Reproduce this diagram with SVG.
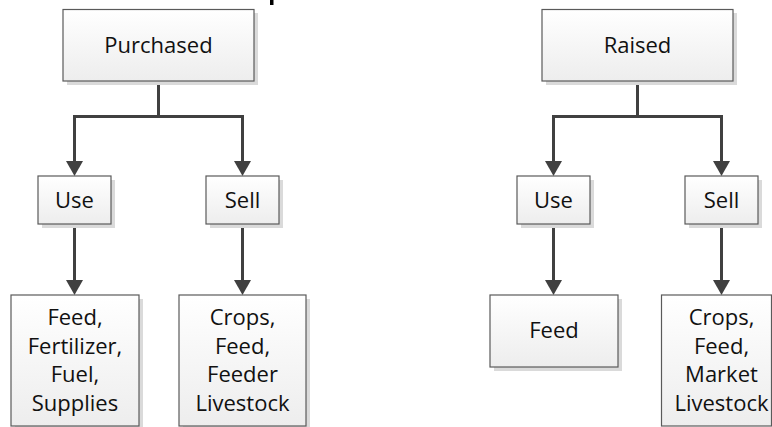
<svg xmlns="http://www.w3.org/2000/svg" width="772" height="427" viewBox="0 0 772 427">
  <defs>
    <linearGradient id="boxfill" x1="0" y1="0" x2="0" y2="1">
      <stop offset="0" stop-color="#ffffff"/>
      <stop offset="1" stop-color="#ededed"/>
    </linearGradient>
    <marker id="arrow" viewBox="0 0 15 17" refX="0" refY="8.5" markerWidth="15" markerHeight="17" markerUnits="userSpaceOnUse" orient="auto">
      <path d="M0,0 L15,8.5 L0,17 z" fill="#404040"/>
    </marker>
  </defs>
  <style>
    .shadow { fill: #dadada; }
    .box { fill: url(#boxfill); stroke: #5a5a5a; stroke-width: 1.2; }
    .lbl { font-family: "Open Sans", "Noto Sans", "Liberation Sans", sans-serif; font-size: 22px; fill: #111; text-anchor: middle; }
    .conn { fill: none; stroke: #404040; stroke-width: 3; }
    .arr { marker-end: url(#arrow); }
  </style>
  <rect width="772" height="427" fill="#ffffff"/>
  <rect x="270" y="0" width="3.5" height="5" fill="#000"/>

  <g id="connectors">
    <path class="conn" d="M158.5,81 V116.5 M74.5,116.5 H242.5 M637.5,81 V116.5 M553.5,116.5 H721.5"/>
    <path class="conn arr" d="M74.5,115 V161"/>
    <path class="conn arr" d="M242.5,115 V161"/>
    <path class="conn arr" d="M553.5,115 V161"/>
    <path class="conn arr" d="M721.5,115 V161"/>
    <path class="conn arr" d="M74.5,224 V280"/>
    <path class="conn arr" d="M242.5,224 V280"/>
    <path class="conn arr" d="M553.5,224 V280"/>
    <path class="conn arr" d="M721.5,224 V280"/>
  </g>

  <g id="purchased">
    <rect class="shadow" x="67" y="13" width="191" height="72"/>
    <rect class="box" x="63" y="9.5" width="191" height="71.5"/>
    <text class="lbl" x="158.5" y="53">Purchased</text>
  </g>
  <g id="raised">
    <rect class="shadow" x="546" y="13" width="191" height="72"/>
    <rect class="box" x="542" y="9.5" width="191" height="71.5"/>
    <text class="lbl" x="637.5" y="53">Raised</text>
  </g>

  <g id="p-use">
    <rect class="shadow" x="42" y="180" width="73" height="48"/>
    <rect class="box" x="38" y="176" width="73" height="48"/>
    <text class="lbl" x="74.5" y="208">Use</text>
  </g>
  <g id="p-sell">
    <rect class="shadow" x="210" y="180" width="73" height="48"/>
    <rect class="box" x="206" y="176" width="73" height="48"/>
    <text class="lbl" x="242.5" y="208">Sell</text>
  </g>
  <g id="r-use">
    <rect class="shadow" x="521" y="180" width="73" height="48"/>
    <rect class="box" x="517" y="176" width="73" height="48"/>
    <text class="lbl" x="553.5" y="208">Use</text>
  </g>
  <g id="r-sell">
    <rect class="shadow" x="689" y="180" width="73" height="48"/>
    <rect class="box" x="685" y="176" width="73" height="48"/>
    <text class="lbl" x="721.5" y="208">Sell</text>
  </g>

  <g id="p-use-items">
    <rect class="shadow" x="15" y="299" width="128" height="132"/>
    <rect class="box" x="11" y="295" width="128" height="131"/>
    <text class="lbl" x="75" y="325">Feed,</text>
    <text class="lbl" x="75" y="353.5">Fertilizer,</text>
    <text class="lbl" x="75" y="382">Fuel,</text>
    <text class="lbl" x="75" y="410.5">Supplies</text>
  </g>
  <g id="p-sell-items">
    <rect class="shadow" x="183" y="299" width="127" height="132"/>
    <rect class="box" x="179" y="295" width="127" height="131"/>
    <text class="lbl" x="242.5" y="325">Crops,</text>
    <text class="lbl" x="242.5" y="353.5">Feed,</text>
    <text class="lbl" x="242.5" y="382">Feeder</text>
    <text class="lbl" x="242.5" y="410.5">Livestock</text>
  </g>
  <g id="r-use-items">
    <rect class="shadow" x="494" y="299" width="128" height="72"/>
    <rect class="box" x="490" y="295" width="128" height="72"/>
    <text class="lbl" x="554" y="338">Feed</text>
  </g>
  <g id="r-sell-items">
    <rect class="box" x="661.5" y="295" width="110" height="131"/>
    <text class="lbl" x="721.5" y="325">Crops,</text>
    <text class="lbl" x="721.5" y="353.5">Feed,</text>
    <text class="lbl" x="721.5" y="382">Market</text>
    <text class="lbl" x="721.5" y="410.5">Livestock</text>
  </g>
</svg>
